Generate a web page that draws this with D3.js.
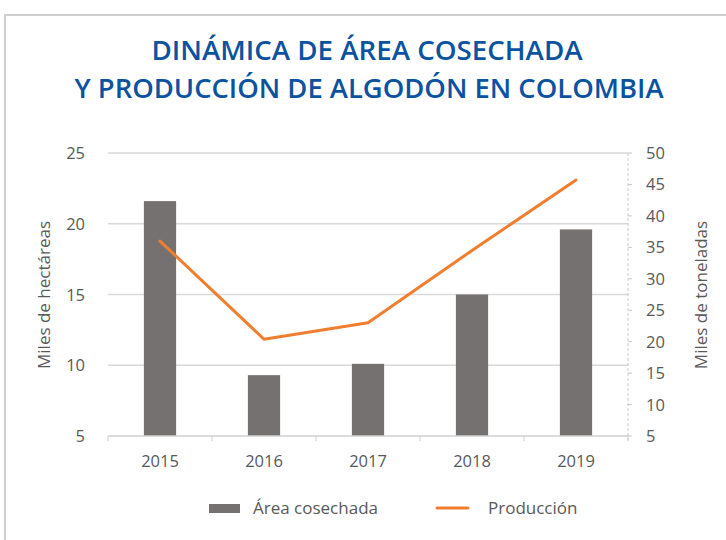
<!DOCTYPE html>
<html>
<head>
<meta charset="utf-8">
<script src="https://cdn.jsdelivr.net/npm/d3@7"></script>
<style>
  body { margin: 0; background: #fff; }
  svg { display: block; }
  text { font-family: "Open Sans", "Noto Sans", sans-serif; }
</style>
</head>
<body>
<svg id="chart" width="726" height="540"></svg>
<script>
// data
var years = ["2015", "2016", "2017", "2018", "2019"];
var area = [21.6, 9.3, 10.1, 15.0, 19.6];        // miles de hectáreas
var produccion = [36.0, 20.4, 23.0, 34.5, 45.7];  // miles de toneladas
var leftTicks = [5, 10, 15, 20, 25];
var rightTicks = [5, 10, 15, 20, 25, 30, 35, 40, 45, 50];

var svg = d3.select("#chart");
var gray = "#595959";
var tickSize = 16.5;

// frame
svg.append("rect")
  .attr("x", 5).attr("y", 15)
  .attr("width", 740).attr("height", 560)
  .attr("fill", "none")
  .attr("stroke", "#cfcfcf")
  .attr("stroke-width", 2);

// title
var title = svg.append("g")
  .attr("font-weight", 600)
  .attr("fill", "#0b52a0")
  .attr("font-size", 27)
  .attr("text-anchor", "middle");
title.append("text").attr("x", 367).attr("y", 60)
  .attr("textLength", 431).attr("lengthAdjust", "spacingAndGlyphs")
  .text("DINÁMICA DE ÁREA COSECHADA");
title.append("text").attr("x", 369).attr("y", 98)
  .attr("textLength", 589).attr("lengthAdjust", "spacingAndGlyphs")
  .text("Y PRODUCCIÓN DE ALGODÓN EN COLOMBIA");

var pLeft = 108, pRight = 628, pTop = 153, pBottom = 436;

var x = d3.scaleBand().domain(years).range([pLeft, pRight]).paddingInner(0.69).paddingOuter(0.345);
var yL = d3.scaleLinear().domain([5, 25]).range([pBottom, pTop]);
var yR = d3.scaleLinear().domain([5, 50]).range([pBottom, pTop]);

// gridlines
svg.append("g")
  .selectAll("line")
  .data(leftTicks.slice(1))
  .enter().append("line")
  .attr("x1", pLeft).attr("x2", pRight)
  .attr("y1", d => yL(d)).attr("y2", d => yL(d))
  .attr("stroke", "#d9d9d9")
  .attr("stroke-width", 1.3);

// bars
svg.append("g")
  .selectAll("rect")
  .data(area)
  .enter().append("rect")
  .attr("x", (d, i) => x(years[i]))
  .attr("width", x.bandwidth())
  .attr("y", d => yL(d))
  .attr("height", d => pBottom - yL(d))
  .attr("fill", "#767171");

// x axis
var xBase = d3.scaleLinear().domain([0, 5]).range([pLeft, pRight]);
var xAxis = svg.append("g").attr("transform", "translate(0," + pBottom + ")");
xAxis.append("line").attr("x1", pLeft).attr("x2", pRight)
  .attr("stroke", "#d0d0d0").attr("stroke-width", 1.3);
xAxis.selectAll("line.tick")
  .data(d3.range(6))
  .enter().append("line")
  .classed("tick", true)
  .attr("x1", d => xBase(d)).attr("x2", d => xBase(d))
  .attr("y1", 0).attr("y2", 5)
  .attr("stroke", "#d0d0d0");
xAxis.selectAll("text")
  .data(years)
  .enter().append("text")
  .attr("x", d => x(d) + x.bandwidth() / 2)
  .attr("y", 31)
  .attr("text-anchor", "middle")
  .attr("font-size", tickSize)
  .attr("fill", gray)
  .text(d => d);

// left axis labels
svg.append("g")
  .selectAll("text")
  .data(leftTicks)
  .enter().append("text")
  .attr("x", 85)
  .attr("y", d => yL(d) + 6)
  .attr("text-anchor", "end")
  .attr("font-size", tickSize)
  .attr("fill", gray)
  .text(d => d);

// right axis: dashed line + ticks
var rAxis = svg.append("g");
rAxis.append("line")
  .attr("x1", pRight).attr("x2", pRight)
  .attr("y1", pTop).attr("y2", pBottom + 4)
  .attr("stroke", "#c8c8c8")
  .attr("stroke-dasharray", "3,2");
rAxis.selectAll("line.tick")
  .data(rightTicks)
  .enter().append("line")
  .classed("tick", true)
  .attr("x1", pRight).attr("x2", pRight + 4)
  .attr("y1", d => yR(d)).attr("y2", d => yR(d))
  .attr("stroke", "#c8c8c8");
rAxis.selectAll("text")
  .data(rightTicks)
  .enter().append("text")
  .attr("x", 646)
  .attr("y", d => yR(d) + 6)
  .attr("font-size", tickSize)
  .attr("fill", gray)
  .text(d => d);

// axis titles
svg.append("text")
  .attr("transform", "translate(50,295) rotate(-90)")
  .attr("text-anchor", "middle")
  .attr("font-size", 17)
  .attr("fill", gray)
  .text("Miles de hectáreas");
svg.append("text")
  .attr("transform", "translate(707,295) rotate(-90)")
  .attr("text-anchor", "middle")
  .attr("font-size", 17)
  .attr("fill", gray)
  .text("Miles de toneladas");

// line
var line = d3.line()
  .x((d, i) => x(years[i]) + x.bandwidth() / 2)
  .y(d => yR(d));
svg.append("path")
  .datum(produccion)
  .attr("d", line)
  .attr("fill", "none")
  .attr("stroke", "#ef7f2f")
  .attr("stroke-width", 3)
  .attr("stroke-linecap", "round")
  .attr("stroke-linejoin", "round");

// legend
var legend = svg.append("g").attr("font-size", 17).attr("fill", gray);
legend.append("rect")
  .attr("x", 209).attr("y", 504)
  .attr("width", 31).attr("height", 9)
  .attr("fill", "#767171");
legend.append("text").attr("x", 253).attr("y", 514).text("Área cosechada");
legend.append("line")
  .attr("x1", 437).attr("x2", 468)
  .attr("y1", 508).attr("y2", 508)
  .attr("stroke", "#ef7f2f")
  .attr("stroke-width", 3)
  .attr("stroke-linecap", "round");
legend.append("text").attr("x", 488).attr("y", 514).text("Producción");
</script>
</body>
</html>
